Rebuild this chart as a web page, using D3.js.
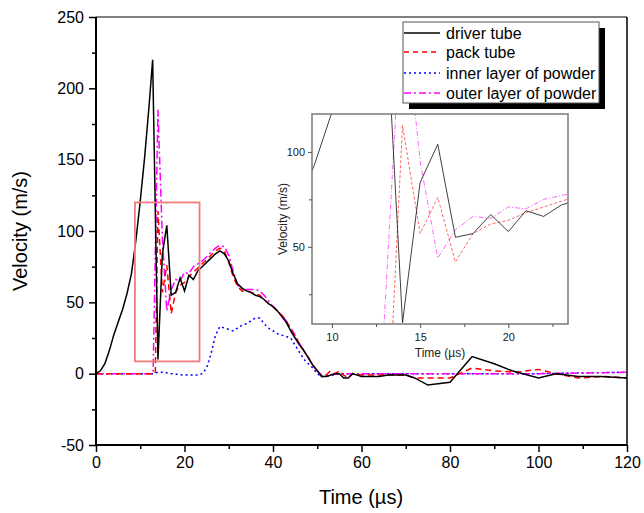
<!DOCTYPE html>
<html>
<head>
<meta charset="utf-8">
<script src="https://cdn.jsdelivr.net/npm/d3@7"></script>
<style>
  body { margin: 0; background: #fff; }
  svg { font-family: "Liberation Sans", Arial, sans-serif; }
</style>
</head>
<body>
<div id="chart"></div>
<script>
// series data (time in µs, velocity in m/s)
const driverT = [0,1,2,3,4,5,6,7,8,9,10,11,12,12.8,14,15,16,17,18,19,20,21,22,23,24,25,26,27,28,29,30,31,32,33,34,35,36,37,38,39,40,41,42,43,44,45,46,47,48,49,50,51,52,53,54,55,56,57,58,59,60,62,64,66,68,70,72,75,80,85,90,94,100,104,109,114,120];
const driverV = [0,2,7,16,27,36,45,56,70,93,121,152,188,220,10,84,104,55,57,67,58,69,66,72,75,78,81,84,86,84,79,70,63,60,58,57,55,54,52,49,47,44,40,36,30,25,20,16,11,6,2,-2,-2,-1,0,0,-3,-3,0,-1,-2,-2,-2,-1,-1,-1,-3,-8,-6,12,7,2,-3,0,-2,-2,-3];

const packT = [0,13.4,14,15,16,17,18,19,20,21,22,23,24,25,26,27,28,29,30,31,32,33,34,35,36,37,38,39,40,41,42,43,44,45,46,47,48,49,50,51,52,53,54,55,56,57,58,60,65,70,72,75,80,85,90,95,100,104,109,115,120];
const packV = [0,0,114,57,76,42,57,62,64,68,71,74,77,80,83,86,88,86,78,68,61,58,58,57,56,55,52,49,47,44,41,37,31,26,21,16,11,6,2,-2,-1,2,0,2,-1,-3,0,-1,-1,-1,-3,-3,-3,4,2,1,3,0,-3,-2,-3];

const innerT = [0,13,14,15,17,20,23,24,25,26,27,28,29,30,31,32,33,34,35,36,37,38,39,40,41,42,43,44,45,46,47,48,49,50,51,52,55,58,60,80,100,120];
const innerV = [0,0,1,1,0,-1,-1,0,4,14,27,33,32,31,30,32,34,35,37,39,39,35,32,30,28,27,26,25,20,15,10,7,4,0,-2,-2,0,0,0,0,0,1];

const outerT = [0,12.9,14,15,16,17,18,19,20,21,22,23,24,25,26,27,28,29,30,31,32,33,34,35,36,37,38,39,40,41,42,43,44,45,46,47,48,49,50,51,52,55,60,70,80,90,100,110,120];
const outerV = [0,0,185,95,44,59,66,65,71,70,75,77,79,82,85,88,90,89,83,72,62,59,59,59,59,58,55,51,47,44,41,37,32,27,21,16,11,6,2,-1,-1,0,0,0,0,0,0,0.5,1];

const seriesNames = ["driver tube", "pack tube", "inner layer of powder", "outer layer of powder"];

// tick values
const xTicks = [0,20,40,60,80,100,120];
const xMinor = [10,30,50,70,90,110];
const yTicks = [-50,0,50,100,150,200,250];
const yMinor = [-25,25,75,125,175,225];
const insetXTicks = [10,15,20];
const insetXMinor = [12.5,17.5,22.5];
const insetYTicks = [50,100];
const insetYMinor = [25,75];

const W = 644, H = 513;
const svg = d3.select('#chart').append('svg')
  .attr('width', W).attr('height', H);

const x = d3.scaleLinear().domain([0,120]).range([96,627]);
const y = d3.scaleLinear().domain([-50,250]).range([445,17]);

const styles = [
  { color: '#000', dash: null },
  { color: '#ff0000', dash: '6,4' },
  { color: '#0000ff', dash: '2,3' },
  { color: '#ff00ff', dash: '8,3,2,3' }
];
const series = [
  driverT.map((t,i) => [t, driverV[i]]),
  packT.map((t,i) => [t, packV[i]]),
  innerT.map((t,i) => [t, innerV[i]]),
  outerT.map((t,i) => [t, outerV[i]])
];

// clip paths
const defs = svg.append('defs');
defs.append('clipPath').attr('id','mainClip').append('rect')
  .attr('x', 96).attr('y', 17).attr('width', 531).attr('height', 428);

// main curves
const line = d3.line().x(d => x(d[0])).y(d => y(d[1]));
const main = svg.append('g').attr('clip-path','url(#mainClip)');
[2,3,1,0].forEach(i => {
  main.append('path')
    .datum(series[i])
    .attr('d', line)
    .attr('fill','none')
    .attr('stroke', styles[i].color)
    .attr('stroke-width', 1.5)
    .attr('stroke-dasharray', styles[i].dash);
});

// zoom rectangle
svg.append('rect')
  .attr('x', x(8.8)).attr('y', y(120))
  .attr('width', x(23.4) - x(8.8)).attr('height', y(8.6) - y(120))
  .attr('fill','none').attr('stroke','#f47a7a').attr('stroke-width',1.8);

// axes (plain hyphen for negatives, like the original)
const fmt = d => String(d);
function styleAxis(g, w) {
  g.select('.domain').remove();
  g.selectAll('line').attr('stroke','#000').attr('stroke-width', w);
}
svg.append('g').attr('transform','translate(0,445)')
  .call(d3.axisBottom(x).tickValues(xTicks).tickSize(7).tickPadding(5).tickFormat(fmt))
  .call(g => styleAxis(g, 1.5))
  .selectAll('text').attr('font-size', 16).attr('font-family','Liberation Sans, Arial').attr('fill','#000');
svg.append('g').attr('transform','translate(0,445)')
  .call(d3.axisBottom(x).tickValues(xMinor).tickSize(4).tickFormat(''))
  .call(g => styleAxis(g, 1.5));
svg.append('g').attr('transform','translate(96,0)')
  .call(d3.axisLeft(y).tickValues(yTicks).tickSize(7).tickPadding(5).tickFormat(fmt))
  .call(g => styleAxis(g, 1.5))
  .selectAll('text').attr('font-size', 16).attr('font-family','Liberation Sans, Arial').attr('fill','#000');
svg.append('g').attr('transform','translate(96,0)')
  .call(d3.axisLeft(y).tickValues(yMinor).tickSize(4).tickFormat(''))
  .call(g => styleAxis(g, 1.5));

// frame
svg.append('line').attr('x1',96).attr('x2',96).attr('y1',17).attr('y2',445).attr('stroke','#000').attr('stroke-width',2);
svg.append('line').attr('x1',96).attr('x2',627).attr('y1',445).attr('y2',445).attr('stroke','#000').attr('stroke-width',2);
svg.append('line').attr('x1',96).attr('x2',627).attr('y1',17).attr('y2',17).attr('stroke','#000').attr('stroke-width',1.2);
svg.append('line').attr('x1',627).attr('x2',627).attr('y1',17).attr('y2',445).attr('stroke','#000').attr('stroke-width',1.5);

// axis titles
svg.append('text').attr('x', 361).attr('y', 504).attr('text-anchor','middle')
  .attr('font-size', 20).text('Time (µs)');
svg.append('text').attr('transform','translate(27,231) rotate(-90)').attr('text-anchor','middle')
  .attr('font-size', 20).text('Velocity (m/s)');

// inset
const ix = d3.scaleLinear().domain([8.87,23.38]).range([312,568]);
const iy = d3.scaleLinear().domain([9.3,120]).range([324,114]);
defs.append('clipPath').attr('id','insetClip').append('rect')
  .attr('x', 312).attr('y', 114).attr('width', 256).attr('height', 210);
svg.append('rect').attr('x',312).attr('y',114).attr('width',256).attr('height',210)
  .attr('fill','#fff');
const iline = d3.line().x(d => ix(d[0])).y(d => iy(d[1]));
const inset = svg.append('g').attr('clip-path','url(#insetClip)');
[3,1,0].forEach(i => {
  inset.append('path')
    .datum(series[i])
    .attr('d', iline)
    .attr('fill','none')
    .attr('stroke', styles[i].color)
    .attr('stroke-opacity', i === 0 ? 0.75 : 0.6)
    .attr('stroke-width', 1)
    .attr('stroke-dasharray', i === 1 ? '3,2' : (i === 3 ? '5,2,1,2' : null));
});
svg.append('rect').attr('x',312).attr('y',114).attr('width',256).attr('height',210)
  .attr('fill','none').attr('stroke','#7a7a7a').attr('stroke-width',1.5);

function styleInset(g) {
  g.select('.domain').remove();
  g.selectAll('line').attr('stroke','#555').attr('stroke-width',1);
  g.selectAll('text').attr('font-size', 11).attr('fill','#222').attr('font-family','Liberation Sans, Arial');
}
svg.append('g').attr('transform','translate(0,324)')
  .call(d3.axisBottom(ix).tickValues(insetXTicks).tickSize(4).tickPadding(5))
  .call(styleInset);
svg.append('g').attr('transform','translate(0,324)')
  .call(d3.axisBottom(ix).tickValues(insetXMinor).tickSize(3).tickFormat(''))
  .call(styleInset);
svg.append('g').attr('transform','translate(312,0)')
  .call(d3.axisLeft(iy).tickValues(insetYTicks).tickSize(4).tickPadding(3))
  .call(styleInset);
svg.append('g').attr('transform','translate(312,0)')
  .call(d3.axisLeft(iy).tickValues(insetYMinor).tickSize(3).tickFormat(''))
  .call(styleInset);
svg.append('text').attr('x', 440).attr('y', 357).attr('text-anchor','middle')
  .attr('font-size', 12).attr('fill','#222').text('Time (µs)');
svg.append('text').attr('transform','translate(287,219) rotate(-90)').attr('text-anchor','middle')
  .attr('font-size', 12).attr('fill','#222').text('Velocity (m/s)');

// legend
const lg = svg.append('g');
lg.append('rect').attr('x', 409).attr('y', 28).attr('width', 196).attr('height', 81).attr('fill','#000');
lg.append('rect').attr('x', 403).attr('y', 22).attr('width', 196).attr('height', 81)
  .attr('fill','#fff').attr('stroke','#555').attr('stroke-width',1);
const rowY = [33, 52, 73, 93];
seriesNames.forEach((name, i) => {
  lg.append('line').attr('x1', 404).attr('x2', 440).attr('y1', rowY[i]).attr('y2', rowY[i])
    .attr('stroke', styles[i].color).attr('stroke-width', 1.5)
    .attr('stroke-dasharray', i === 1 ? '5,4' : (i === 2 ? '2,3' : (i === 3 ? '7,3,2,3' : null)));
  lg.append('text').attr('x', 446).attr('y', rowY[i]).attr('dy','0.35em')
    .attr('font-size', 16).text(name);
});
</script>
</body>
</html>
